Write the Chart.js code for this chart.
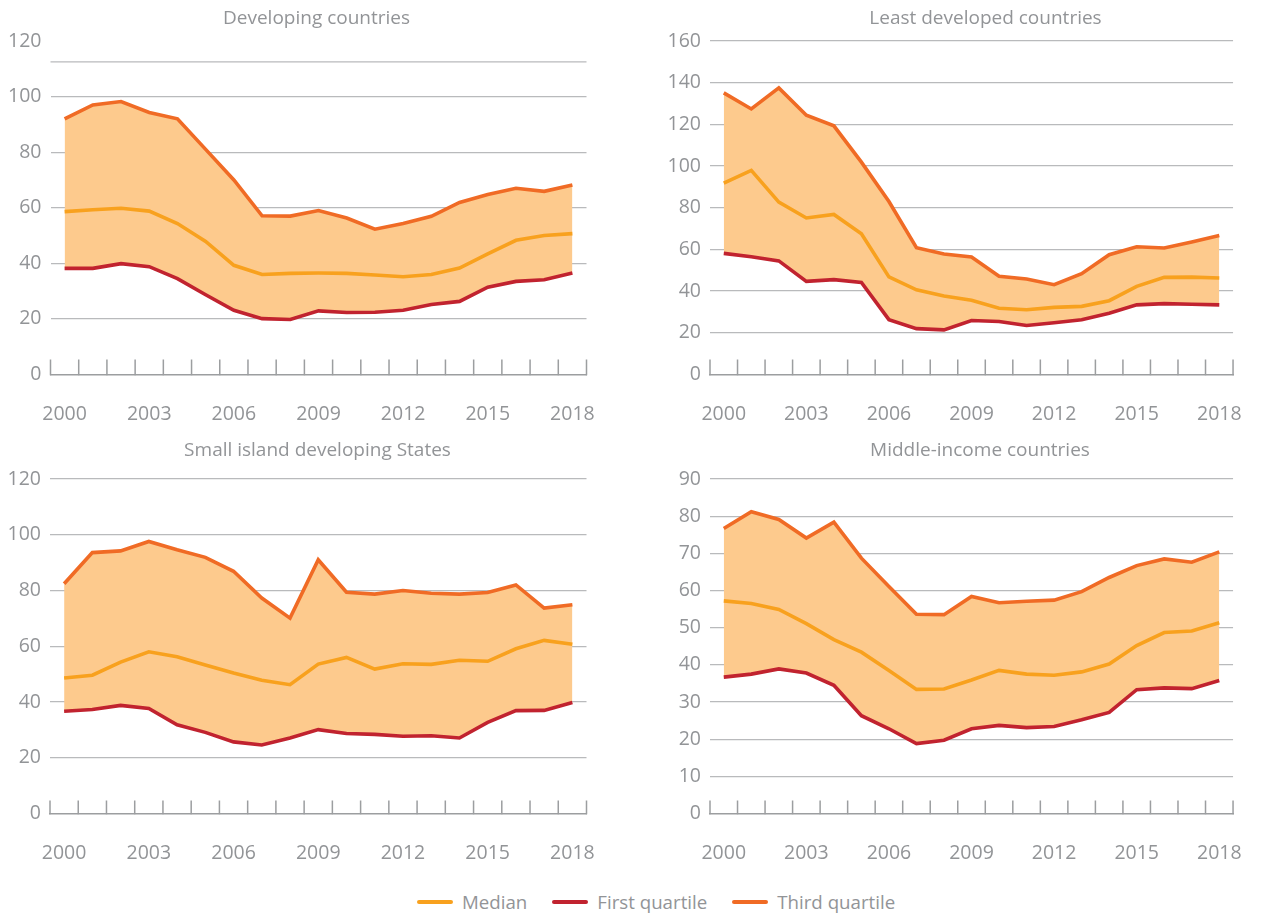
<!DOCTYPE html>
<html>
<head>
<meta charset="utf-8">
<script src="https://cdn.jsdelivr.net/npm/chart.js@4.4.1/dist/chart.umd.min.js"></script>
<style>
  html, body { margin: 0; padding: 0; background: #ffffff; }
  #page { position: relative; width: 1262px; height: 918px; overflow: hidden; font-family: "Open Sans", sans-serif; color: #939598; }
  canvas { position: absolute; }
  .ptitle { position: absolute; font-size: 19px; line-height: 22px; white-space: nowrap; transform: translateX(-50%); color: #929497; }
  #legend { position: absolute; left: 417px; top: 892px; height: 20px; display: flex; align-items: center; font-size: 18.7px; line-height: 20px; white-space: nowrap; color: #929497; }
  #legend .item { display: flex; align-items: center; margin-right: 25px; }
  #legend .sw { width: 36px; height: 4px; border-radius: 2px; margin-right: 9px; }
</style>
</head>
<body>
<div id="page">
  <canvas id="c1"></canvas>
  <canvas id="c2"></canvas>
  <canvas id="c3"></canvas>
  <canvas id="c4"></canvas>
  <div class="ptitle" id="t1"></div>
  <div class="ptitle" id="t2"></div>
  <div class="ptitle" id="t3"></div>
  <div class="ptitle" id="t4"></div>
  <div id="legend"></div>
</div>
<script>
// ---------- Data ----------
const years = ['2000','2001','2002','2003','2004','2005','2006','2007','2008','2009','2010','2011','2012','2013','2014','2015','2016','2017','2018'];
const seriesNames = ['Median', 'First quartile', 'Third quartile'];
const panelTitles = ['Developing countries', 'Least developed countries', 'Small island developing States', 'Middle-income countries'];

const devThird  = [92, 97, 98.2, 94.3, 92, 81, 70, 57.1, 57, 59, 56.3, 52.3, 54.3, 56.9, 61.9, 64.8, 67, 65.9, 68.2];
const devMedian = [58.6, 59.3, 59.8, 58.8, 54.3, 47.9, 39.3, 36.0, 36.4, 36.5, 36.4, 35.8, 35.2, 36.0, 38.3, 43.4, 48.3, 50.0, 50.7];
const devFirst  = [38.2, 38.2, 39.9, 38.8, 34.5, 28.7, 23.1, 20.1, 19.8, 22.9, 22.3, 22.4, 23.1, 25.2, 26.3, 31.4, 33.5, 34.1, 36.5];

const ldcThird  = [135.1, 127.4, 137.5, 124.4, 119.3, 101.9, 83, 60.8, 57.8, 56.4, 47.1, 45.8, 43.1, 48.4, 57.5, 61.3, 60.7, 63.6, 66.7];
const ldcMedian = [91.8, 97.9, 82.7, 75.1, 76.8, 67.5, 46.8, 40.6, 37.7, 35.6, 31.8, 31.1, 32.2, 32.7, 35.4, 42.3, 46.6, 46.7, 46.3];
const ldcFirst  = [58.1, 56.5, 54.5, 44.7, 45.5, 44.2, 26.3, 22, 21.4, 25.9, 25.4, 23.5, 24.8, 26.3, 29.4, 33.4, 34, 33.7, 33.4];

const sidsThird  = [82.4, 93.6, 94.2, 97.6, 94.6, 91.9, 86.9, 77.3, 70.1, 91, 79.4, 78.7, 80, 79, 78.7, 79.3, 82, 73.7, 74.9];
const sidsMedian = [48.6, 49.6, 54.3, 58, 56.2, 53.3, 50.4, 47.8, 46.2, 53.6, 56, 51.8, 53.7, 53.5, 55, 54.6, 59.1, 62.1, 60.7];
const sidsFirst  = [36.7, 37.3, 38.8, 37.7, 31.8, 29.1, 25.7, 24.6, 27.1, 30.1, 28.7, 28.4, 27.7, 27.9, 27.1, 32.7, 36.9, 37, 39.8];

const micThird  = [76.7, 81.2, 79.1, 74.1, 78.4, 68.7, 61.1, 53.6, 53.5, 58.4, 56.7, 57.1, 57.4, 59.7, 63.5, 66.7, 68.5, 67.6, 70.4];
const micMedian = [57.2, 56.5, 54.9, 51.1, 46.8, 43.4, 38.5, 33.4, 33.5, 35.9, 38.5, 37.5, 37.2, 38.1, 40.2, 45.2, 48.7, 49.1, 51.3];
const micFirst  = [36.7, 37.5, 38.9, 37.8, 34.5, 26.3, 22.8, 18.8, 19.7, 22.8, 23.7, 23.1, 23.4, 25.2, 27.2, 33.3, 33.8, 33.6, 35.8];

// y-axis ranges per panel
const yMaxes = [120, 160, 120, 90];
const ySteps = [20, 20, 20, 10];

// ---------- Styles ----------
const COL_MEDIAN = '#F8A11E';
const COL_FIRST  = '#C1232F';
const COL_THIRD  = '#F06B25';
const COL_FILL   = '#FDCA8D';
const COL_TEXT   = '#929497';
const COL_GRID   = '#B9BABC';
const COL_AXIS   = '#9C9EA0';
const FONT = '"Open Sans", sans-serif';
const TICK_SIZE = 19.5;

const tickMarks = {
  id: 'tickMarks',
  afterDraw(chart, args, opts) {
    const xs = chart.scales.x;
    const n = chart.data.labels.length;
    const step = xs.getPixelForValue(1) - xs.getPixelForValue(0);
    const start = xs.getPixelForValue(0) - step / 2;
    const ctx = chart.ctx;
    ctx.save();
    ctx.strokeStyle = COL_AXIS;
    ctx.lineWidth = 1.5;
    ctx.beginPath();
    for (let i = 0; i <= n; i++) {
      const px = start + i * step;
      ctx.moveTo(px, xs.top + 0.75);
      ctx.lineTo(px, xs.top - opts.length);
    }
    ctx.stroke();
    ctx.restore();
  }
};

const extraGrid = {
  id: 'extraGrid',
  beforeDatasetsDraw(chart, args, opts) {
    if (!opts.values || !opts.values.length) return;
    const ys = chart.scales.y;
    const ctx = chart.ctx;
    ctx.save();
    ctx.strokeStyle = COL_GRID;
    ctx.lineWidth = 1.3;
    ctx.beginPath();
    opts.values.forEach(v => {
      const py = ys.getPixelForValue(v);
      ctx.moveTo(chart.chartArea.left, py);
      ctx.lineTo(chart.chartArea.right, py);
    });
    ctx.stroke();
    ctx.restore();
  }
};

function makePanel(id, box, area, third, median, first, yMax, yStep, hiddenGrid, extraLines, tickLen, labelPad) {
  const cv = document.getElementById(id);
  cv.width = box.w; cv.height = box.h;
  cv.style.left = box.x + 'px'; cv.style.top = box.y + 'px';
  cv.style.width = box.w + 'px'; cv.style.height = box.h + 'px';
  return new Chart(cv, {
    type: 'line',
    data: {
      labels: years,
      datasets: [
        { label: seriesNames[2], data: third, borderColor: COL_THIRD, backgroundColor: COL_FILL, fill: 2, borderWidth: 3.6, pointRadius: 0, tension: 0 },
        { label: seriesNames[0], data: median, borderColor: COL_MEDIAN, backgroundColor: COL_MEDIAN, fill: false, borderWidth: 3.6, pointRadius: 0, tension: 0 },
        { label: seriesNames[1], data: first, borderColor: COL_FIRST, backgroundColor: COL_FIRST, fill: false, borderWidth: 3.6, pointRadius: 0, tension: 0 }
      ]
    },
    options: {
      responsive: false,
      animation: false,
      devicePixelRatio: 1,
      layout: { padding: { top: area.top, right: box.w - area.right, bottom: 0, left: 0 } },
      plugins: {
        legend: { display: false },
        title: { display: false },
        tooltip: { enabled: false },
        filler: { drawTime: 'beforeDatasetsDraw' },
        tickMarks: { length: tickLen },
        extraGrid: { values: extraLines }
      },
      scales: {
        x: {
          type: 'category',
          offset: true,
          grid: { display: false },
          border: { display: true, color: COL_AXIS, width: 1.5 },
          ticks: {
            autoSkip: false, maxRotation: 0, minRotation: 0,
            color: COL_TEXT, font: { family: FONT, size: TICK_SIZE }, padding: labelPad,
            callback: (v, i) => (i % 3 === 0 ? years[i] : '')
          },
          afterFit: s => { s.height = box.h - area.bottom; }
        },
        y: {
          min: 0, max: yMax,
          grid: {
            drawTicks: false,
            lineWidth: 1.3,
            color: c => (hiddenGrid.includes(c.tick.value) ? 'rgba(0,0,0,0)' : COL_GRID)
          },
          border: { display: false },
          ticks: { stepSize: yStep, color: COL_TEXT, font: { family: FONT, size: TICK_SIZE }, padding: 9 },
          afterFit: s => { s.width = area.left; }
        }
      }
    },
    plugins: [tickMarks, extraGrid]
  });
}

makePanel('c1', { x: 0, y: 0, w: 631, h: 430 }, { left: 50.5, right: 586.5, top: 41, bottom: 374.5 },
  devThird, devMedian, devFirst, yMaxes[0], ySteps[0], [0, 120], [112.5], 15, 20);
makePanel('c2', { x: 631, y: 0, w: 631, h: 430 }, { left: 79, right: 615, top: 41, bottom: 374.5 },
  ldcThird, ldcMedian, ldcFirst, yMaxes[1], ySteps[1], [0], [], 15, 20);
makePanel('c3', { x: 0, y: 430, w: 631, h: 430 }, { left: 50, right: 586.5, top: 49, bottom: 383.5 },
  sidsThird, sidsMedian, sidsFirst, yMaxes[2], ySteps[2], [0], [], 13, 20);
makePanel('c4', { x: 631, y: 430, w: 631, h: 430 }, { left: 79, right: 615, top: 49, bottom: 383.5 },
  micThird, micMedian, micFirst, yMaxes[3], ySteps[3], [0], [], 13, 20);

// titles
const titlePos = [[316.5, 6], [985.5, 6], [317.5, 438], [980, 438]];
panelTitles.forEach((t, i) => {
  const el = document.getElementById('t' + (i + 1));
  el.textContent = t;
  el.style.left = titlePos[i][0] + 'px';
  el.style.top = titlePos[i][1] + 'px';
});

// legend
const legendColors = [COL_MEDIAN, COL_FIRST, COL_THIRD];
const lg = document.getElementById('legend');
seriesNames.forEach((n, i) => {
  const it = document.createElement('div'); it.className = 'item';
  const sw = document.createElement('span'); sw.className = 'sw'; sw.style.background = legendColors[i];
  const tx = document.createElement('span'); tx.textContent = n;
  it.appendChild(sw); it.appendChild(tx); lg.appendChild(it);
});
</script>
</body>
</html>
